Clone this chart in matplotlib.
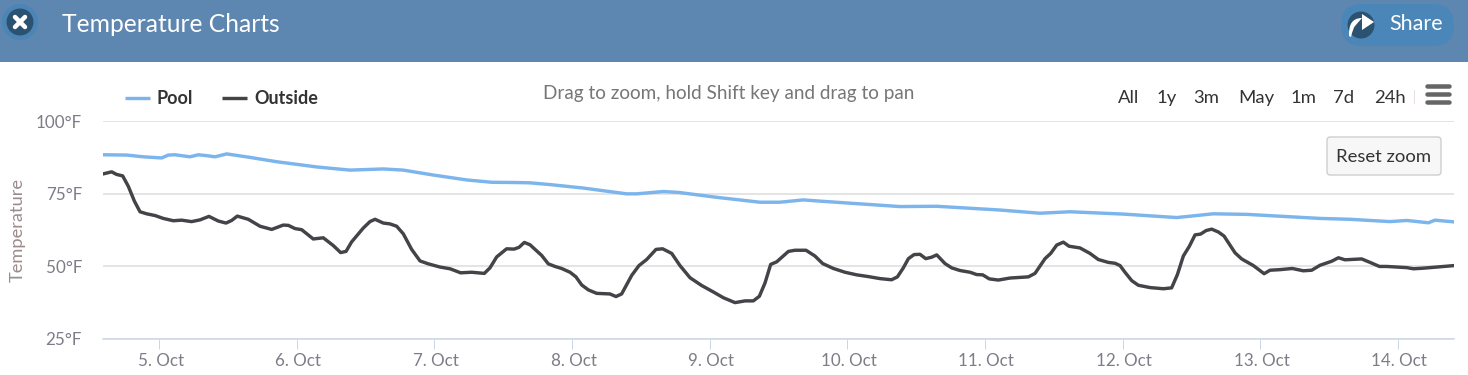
import matplotlib
matplotlib.use("Agg")
import matplotlib.pyplot as plt
from matplotlib.patches import Rectangle, Circle, FancyBboxPatch, Polygon, PathPatch
from matplotlib.path import Path
from matplotlib.transforms import ScaledTranslation

plt.rcParams['font.family'] = ['Lato', 'DejaVu Sans']

# ---- data (x = day of October, y = deg F) ----
pool_days = [4.593,4.763,4.884,5.017,5.066,5.114,5.223,5.284,5.344,5.405,5.49,5.659,5.853,6.143,6.386,6.628,
             6.773,6.991,7.234,7.415,7.597,7.694,7.839,8.081,8.396,8.469,8.663,8.772,9.05,9.365,9.51,9.68,
             9.825,10.165,10.383,10.649,11.11,11.40,11.619,12.006,12.394,12.66,12.903,13.169,13.436,13.654,
             13.944,14.065,14.223,14.271,14.409]
pool_temp = [88.5,88.4,87.8,87.4,88.4,88.5,87.8,88.5,88.2,87.8,88.8,87.6,86.1,84.3,83.2,83.6,
             83.2,81.5,79.8,79.0,78.9,78.8,78.2,77.0,75.0,75.0,75.8,75.5,73.8,72.1,72.1,72.9,
             72.4,71.3,70.6,70.7,69.4,68.3,68.8,68.0,66.8,68.1,67.9,67.2,66.5,66.2,
             65.4,65.8,65.0,65.9,65.3]

outside_days = [4.593,4.654,4.690,4.734,4.775,4.819,4.860,4.908,4.969,5.029,5.102,5.162,5.235,5.296,5.361,5.429,
                5.485,5.526,5.567,5.647,5.732,5.817,5.901,5.938,5.986,6.035,6.119,6.192,6.265,6.318,6.357,6.398,
                6.483,6.531,6.568,6.628,6.677,6.725,6.773,6.834,6.895,6.955,7.040,7.113,7.19,7.27,7.362,7.403,
                7.452,7.524,7.578,7.614,7.653,7.694,7.779,7.827,7.876,7.924,7.985,8.028,8.07,8.118,8.179,8.275,
                8.319,8.36,8.433,8.486,8.542,8.61,8.658,8.724,8.784,8.857,8.942,9.026,9.099,9.184,9.257,9.317,
                9.361,9.402,9.443,9.487,9.572,9.62,9.70,9.765,9.821,9.899,9.983,10.068,10.153,10.238,10.322,10.364,
                10.407,10.444,10.485,10.528,10.57,10.613,10.65,10.71,10.759,10.819,10.892,10.94,10.984,11.032,11.098,11.183,
                11.316,11.364,11.437,11.478,11.522,11.57,11.611,11.691,11.764,11.824,11.897,11.946,11.982,12.018,12.067,12.115,
                12.2,12.297,12.357,12.399,12.442,12.486,12.527,12.568,12.607,12.648,12.697,12.738,12.818,12.866,12.951,13.029,
                13.072,13.145,13.234,13.314,13.375,13.435,13.52,13.569,13.617,13.738,13.799,13.867,13.92,14.065,14.114,14.186,
                14.235,14.409]
outside_temp = [81.9,82.6,81.7,81.2,77.6,72.5,68.8,68.1,67.5,66.5,65.7,65.9,65.4,66.0,67.2,65.6,
                64.9,65.8,67.3,66.2,63.8,62.7,64.2,64.1,63.0,62.6,59.4,59.8,57.1,54.7,55.1,58.4,
                63.2,65.4,66.2,64.9,64.6,63.8,61.2,55.8,51.8,50.8,49.7,49.1,47.7,47.9,47.5,49.4,
                53.2,56.0,55.9,56.5,58.2,57.4,53.7,50.8,49.9,49.2,47.9,46.3,43.5,41.8,40.6,40.4,
                39.5,40.4,46.8,50.2,52.3,55.8,56.0,54.4,50.2,46.0,43.3,41.1,39.1,37.4,38.0,38.0,
                39.6,44.2,50.6,51.5,55.1,55.5,55.5,53.5,50.9,49.2,47.9,47.0,46.4,45.7,45.3,46.3,
                49.4,52.6,54.0,54.1,52.6,53.1,53.9,50.9,49.4,48.5,47.9,47.1,47.0,45.6,45.2,45.9,
                46.3,47.5,52.6,54.4,57.3,58.3,56.9,56.3,54.4,52.3,51.3,51.0,50.2,47.9,45.0,43.4,
                42.6,42.2,42.5,47.1,53.5,56.9,60.8,61.1,62.3,62.8,61.8,60.4,54.6,52.5,50.2,47.4,
                48.6,48.8,49.2,48.4,48.6,50.3,51.7,52.9,52.2,52.5,51.3,49.9,49.9,49.5,49.1,49.3,
                49.5,50.2]

x_ticks = [5, 6, 7, 8, 9, 10, 11, 12, 13, 14]
x_labels = ['5. Oct', '6. Oct', '7. Oct', '8. Oct', '9. Oct', '10. Oct', '11. Oct', '12. Oct', '13. Oct', '14. Oct']
y_ticks = [25, 50, 75, 100]
y_labels = ['25°F', '50°F', '75°F', '100°F']
range_buttons = ['All', '1y', '3m', 'May', '1m', '7d', '24h']
range_centers = [1129, 1167, 1206, 1256, 1304, 1344, 1390]

W, H = 1468, 375
fig = plt.figure(figsize=(W/100, H/100), dpi=100, facecolor='white')

ui = fig.add_axes([0, 0, 1, 1])
ui.set_xlim(0, W); ui.set_ylim(H, 0); ui.axis('off')
px = 0.72

ax = fig.add_axes([103/W, 1-338.5/H, (1454-103)/W, (338.5-121.5)/H])
ax.patch.set_alpha(0)
ax.set_xlim(4.591, 14.409)
ax.set_ylim(25, 100)
ax.plot(pool_days, pool_temp, color='#7cb5ec', lw=3.4*px, solid_joinstyle='round', label='Pool')
ax.plot(outside_days, outside_temp, color='#434348', lw=3.4*px, solid_joinstyle='round', label='Outside')
for s in ['top', 'left', 'right']:
    ax.spines[s].set_visible(False)
ax.spines['bottom'].set_color('#ccd6eb')
ax.spines['bottom'].set_linewidth(1.5*px)
ax.set_yticks(y_ticks, y_labels)
ax.set_xticks(x_ticks, x_labels)
ax.yaxis.grid(True, color='#dcdcdc', lw=1.5*px)
ax.set_axisbelow(True)
ax.tick_params(axis='y', length=0, pad=21*px, labelsize=17*px, labelcolor='#7d7d88')
ax.tick_params(axis='x', length=10*px, width=1*px, color='#ccd6eb', pad=5*px, labelsize=17*px, labelcolor='#7d7d88')
for t in ax.get_xticklabels():
    t.set_transform(t.get_transform() + ScaledTranslation(1.5/100, 0, fig.dpi_scale_trans))

ui.add_patch(Rectangle((0, 0), W, 62, color='#5d86b0', lw=0))
ui.text(62, 25, 'Temperature Charts', color='white', fontsize=24.6*px, va='center', ha='left')

ui.add_patch(Circle((20, 22), 18, color='#4b85b5', lw=0))
ui.add_patch(Circle((20, 22), 13.5, color='#2c5272', lw=0))
ui.plot([15, 25], [17, 27], color='white', lw=4.5*px, solid_capstyle='round')
ui.plot([25, 15], [17, 27], color='white', lw=4.5*px, solid_capstyle='round')

ui.add_patch(FancyBboxPatch((1362, 25), 71, 0, boxstyle='round,pad=21,rounding_size=21', color='#4a87b8', lw=0))
ui.add_patch(Circle((1361, 25), 13.5, color='#2c5272', lw=0))
ui.add_patch(Polygon([(1362, 14), (1374, 22), (1362, 30), (1362, 25)], color='white', lw=0))
ui.add_patch(PathPatch(Path([(1362, 18), (1348, 18), (1349, 36), (1351, 37), (1353, 28), (1355, 26), (1362, 26)],
                           [Path.MOVETO, Path.CURVE3, Path.CURVE3, Path.LINETO, Path.CURVE3, Path.CURVE3, Path.CLOSEPOLY]),
                       color='white', lw=0))
ui.text(1389, 24, 'Share', color='white', fontsize=21.5*px, va='center', ha='left')

ui.plot([125, 150], [98, 98], color='#7cb5ec', lw=3.4*px, solid_capstyle='butt')
ui.text(157, 99, 'Pool', color='#333333', fontsize=18*px, fontweight='bold', va='center')
ui.plot([222, 247], [98, 98], color='#434348', lw=3.4*px, solid_capstyle='butt')
ui.text(254, 99, 'Outside', color='#333333', fontsize=18*px, fontweight='bold', va='center')

ui.text(728.5, 93.5, 'Drag to zoom, hold Shift key and drag to pan', color='#767676', fontsize=18.9*px,
        va='center', ha='center')

for label, cx in zip(range_buttons, range_centers):
    ui.text(cx, 98, label, color='#333333', fontsize=18.5*px, va='center', ha='center')
ui.plot([1414, 1414], [90, 103], color='#eadfdf', lw=1*px)

for yy in (86, 94, 102):
    ui.plot([1427, 1449], [yy, yy], color='#666666', lw=4.5*px, solid_capstyle='round')

ui.text(18, 230, 'Temperature', rotation=90, color='#9a8c8d', fontsize=18.3*px, va='center', ha='center')

ui.add_patch(FancyBboxPatch((1330, 140), 108, 32, boxstyle='round,pad=3,rounding_size=3',
                            fc='#f7f7f7', ec='#cccccc', lw=1.3*px, zorder=5))
ui.set_zorder(2)
ui.text(1384, 157.5, 'Reset zoom', color='#333333', fontsize=18.5*px, va='center', ha='center', zorder=6)

fig.savefig('out.png', dpi=100, facecolor='white')
